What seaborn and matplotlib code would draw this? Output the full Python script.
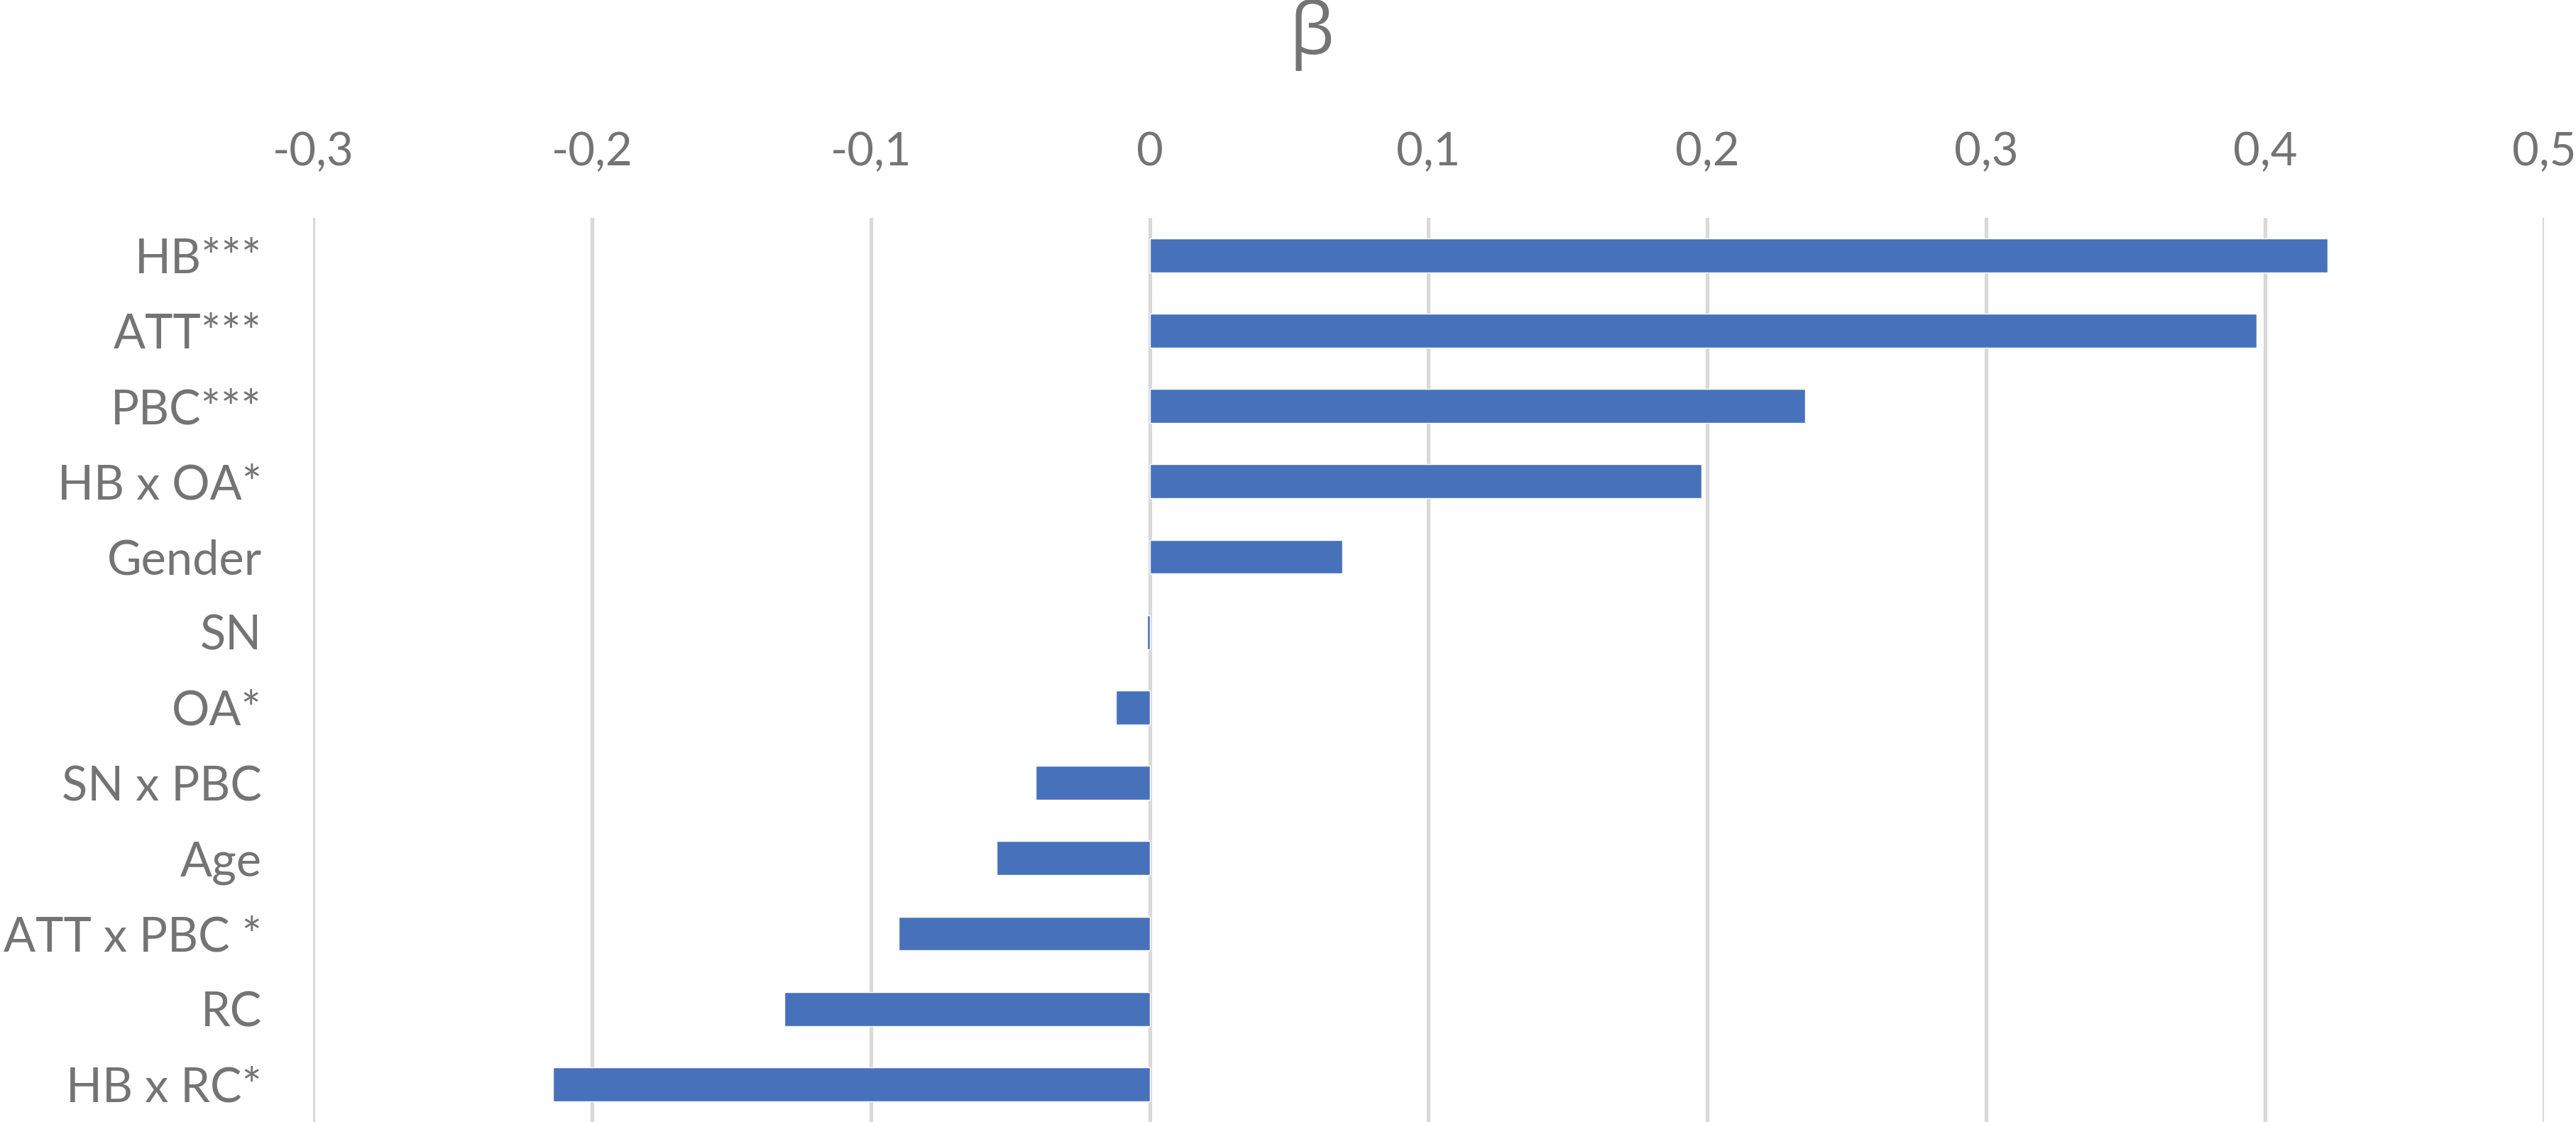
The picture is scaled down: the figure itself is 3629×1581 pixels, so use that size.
import matplotlib
matplotlib.use("Agg")
import matplotlib.pyplot as plt
import seaborn as sns
import pandas as pd

categories = ["HB***", "ATT***", "PBC***", "HB x OA*", "Gender", "SN", "OA*",
              "SN x PBC", "Age", "ATT x PBC *", "RC", "HB x RC*"]
beta = [0.4225, 0.397, 0.235, 0.198, 0.069, -0.001, -0.012,
        -0.041, -0.055, -0.090, -0.131, -0.214]
xticks = [-0.3, -0.2, -0.1, 0.0, 0.1, 0.2, 0.3, 0.4, 0.5]
xtick_labels = ["-0,3", "-0,2", "-0,1", "0", "0,1", "0,2", "0,3", "0,4", "0,5"]

sns.set_theme(style="white")
plt.rcParams['font.family'] = ['Lato', 'DejaVu Sans']

TEXT = "#747474"
GRID = "#D9D9D9"
BAR = "#4772BB"

df = pd.DataFrame({"cat": categories, "beta": beta})

fig = plt.figure(figsize=(36.3, 15.81), dpi=100)
ax = fig.add_axes([0.1215, 0.0, 0.9873 - 0.1215, 0.806])

sns.barplot(data=df, x="beta", y="cat", order=categories, color=BAR,
            orient="h", width=0.45, saturation=1, ax=ax)

ax.set_xlim(-0.3, 0.5)
ax.set_ylim(len(categories) - 0.5, -0.5)
ax.set_xticks(xticks)
ax.set_xticklabels(xtick_labels)
ax.xaxis.tick_top()
ax.tick_params(axis="x", length=0, pad=45, labelsize=47, labelcolor=TEXT)
ax.tick_params(axis="y", length=0, pad=52, labelsize=48, labelcolor=TEXT)
ax.set_xlabel("")
ax.set_ylabel("")
for s in ax.spines.values():
    s.set_visible(False)
ax.grid(False)
for xv in xticks:
    ax.axvline(xv, color=GRID, linewidth=3.8, zorder=0)
ax.set_axisbelow(True)

fig.text(0.509, 0.969, "β", ha="center", va="center", fontsize=72,
         color=TEXT, family=['Open Sans', 'DejaVu Sans'])

fig.savefig("out.png", dpi=100, facecolor="white")
